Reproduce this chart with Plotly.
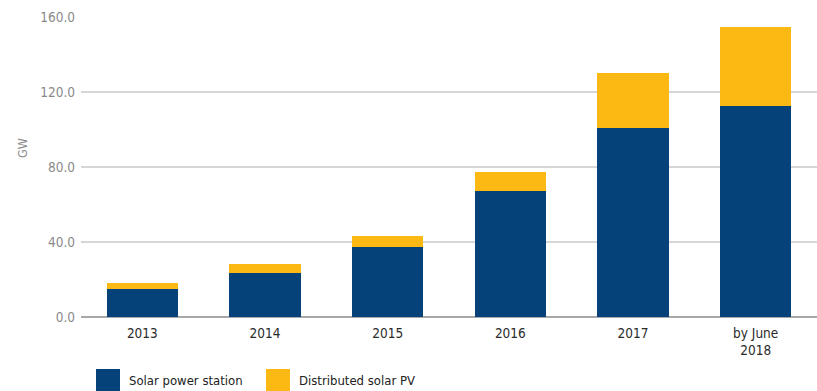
import plotly.graph_objects as go

# Cumulative installed solar PV capacity in China (GW)
categories = ["2013", "2014", "2015", "2016", "2017", "by June<br>2018"]
power_station = [14.8, 23.4, 37.1, 67.1, 100.6, 112.6]
distributed = [3.1, 4.7, 6.1, 10.3, 29.7, 41.9]
series_names = ["Solar power station", "Distributed solar PV"]
series_colors = ["#05427a", "#fdb913"]
y_ticks = [0, 40, 80, 120, 160]

FONT = "DejaVu Sans Condensed"

fig = go.Figure()
for name, vals, col in zip(series_names, [power_station, distributed], series_colors):
    fig.add_trace(go.Bar(
        x=categories, y=vals, name=name, marker=dict(color=col, line=dict(width=0)),
        showlegend=False,
    ))

fig.update_layout(
    barmode="stack",
    bargap=0.42,
    width=817, height=391,
    margin=dict(l=81, r=0, t=17, b=74),
    paper_bgcolor="white", plot_bgcolor="white",
    font=dict(family=FONT, size=13, color="#333333"),
    xaxis=dict(
        showgrid=False, ticks="", showline=False,
        tickfont=dict(size=13.5, color="#2a2a2a"),
        ticklabelstandoff=6,
    ),
    yaxis=dict(
        range=[0, 160], tickvals=y_ticks, tickformat=".1f",
        showgrid=True, gridcolor="#d6d6d6", gridwidth=1.5,
        zeroline=True, zerolinecolor="#a8a8a8", zerolinewidth=1.5,
        tickfont=dict(size=13.5, color="#8a8a8a"),
        ticklabelstandoff=5,
    ),
)

# Axis unit label
fig.add_annotation(xref="paper", yref="paper", x=(22 - 81) / 736, y=(317 - 148) / 300,
                   text="GW", textangle=-90, showarrow=False,
                   xanchor="center", yanchor="middle",
                   font=dict(size=12.5, color="#8a8a8a"))

# Legend row under the axis: large colour swatches with labels
legend_x = [96, 266]
for name, col, lx in zip(series_names, series_colors, legend_x):
    fig.add_shape(type="rect", xref="paper", yref="paper",
                  x0=(lx - 81) / 736, x1=(lx + 24 - 81) / 736,
                  y0=(317 - 393) / 300, y1=(317 - 369) / 300,
                  fillcolor=col, line=dict(width=0))
    fig.add_annotation(xref="paper", yref="paper",
                       x=(lx + 31 - 81) / 736, y=(317 - 380) / 300,
                       text=name, showarrow=False, xanchor="left", yanchor="middle",
                       font=dict(size=13, color="#222222"))

fig.write_html("out.html")
